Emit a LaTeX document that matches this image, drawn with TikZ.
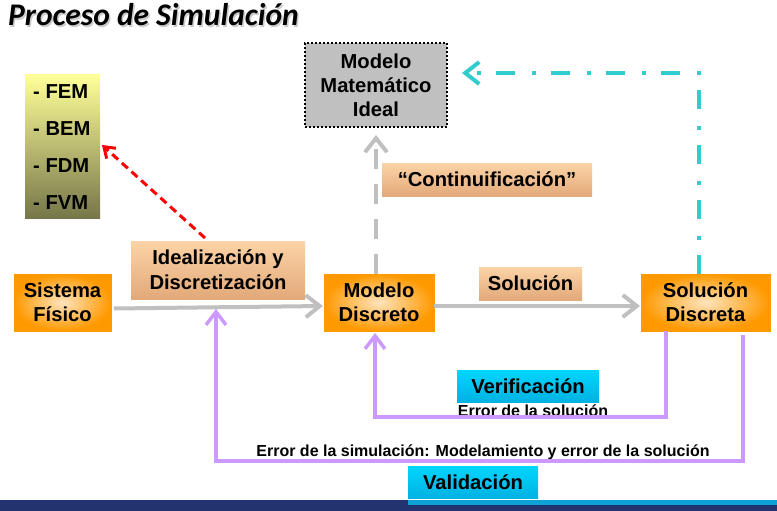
\documentclass[tikz,border=0pt]{standalone}
\usepackage{fontspec}
\setmainfont{Liberation Sans}
\newfontfamily\titlefont{Carlito}
\usetikzlibrary{arrows.meta}
\definecolor{orng}{HTML}{FF9900}
\definecolor{orngin}{HTML}{FFE4BE}
\definecolor{peachT}{HTML}{FCD3A6}
\definecolor{peachB}{HTML}{E2A97A}
\definecolor{yelT}{HTML}{FFFF99}
\definecolor{yelB}{HTML}{76764A}
\definecolor{cyT}{HTML}{00D6FF}
\definecolor{cyB}{HTML}{00B2E2}
\definecolor{grayarr}{HTML}{C0C0C0}
\definecolor{tealc}{HTML}{33CCCC}
\definecolor{purp}{HTML}{CC99FF}
\definecolor{navyc}{HTML}{223370}
\definecolor{ltblue}{HTML}{0CA2D6}
\tikzset{
  big/.style={font=\bfseries\fontsize{20.2}{24}\selectfont},
  small/.style={font=\bfseries\fontsize{16}{18}\selectfont},
  obox/.style={big, align=center, inner sep=0, draw=orng, line width=0.8, inner color=orngin, outer color=orng},
  pbox/.style={big, align=center, inner sep=0, top color=peachT, bottom color=peachB},
  cbox/.style={big, align=center, inner sep=0, top color=cyT, bottom color=cyB},
  grayline/.style={draw=grayarr, line width=4, -{Straight Barb[length=14,width=22]}},
  purpline/.style={draw=purp, line width=3.5, -{Straight Barb[length=13,width=20]}},
}
\begin{document}
\begin{tikzpicture}[x=1pt,y=-1pt]
\useasboundingbox (0,0) rectangle (777,511);
% title
\node[anchor=base west, inner sep=0, text=black!40, opacity=0.5, font=\titlefont\bfseries\itshape\fontsize{31.5}{33}\selectfont] (titsh) at (9.5,27.5) {Proceso de Simulación};
\node[anchor=base west, inner sep=0, font=\titlefont\bfseries\itshape\fontsize{31.5}{33}\selectfont] (title) at (8,26) {Proceso de Simulación};
% bottom bar
\fill[navyc] (0,500) rectangle (777,511);
\fill[ltblue] (408,500) rectangle (777,505);
% method list
\node[inner sep=0, minimum width=75, minimum height=143, top color=yelT, bottom color=yelB] (meth) at (62.5,146.5) {};
\node[big, anchor=west, inner sep=0] (fem) at (33,92) {- FEM};
\node[big, anchor=west, inner sep=0] (bem) at (33,129) {- BEM};
\node[big, anchor=west, inner sep=0] (fdm) at (33,166) {- FDM};
\node[big, anchor=west, inner sep=0] (fvm) at (33,203) {- FVM};
% ideal model
\node[big, align=center, inner sep=0, minimum width=142, minimum height=84, fill=grayarr, draw=black, line width=2, dash pattern=on 2 off 2] (mmi) at (376,85) {Modelo\\Matemático\\Ideal};
% main boxes
\node[obox, minimum width=97, minimum height=57] (sis) at (62.5,302.5) {Sistema\\Físico};
\node[obox, minimum width=110, minimum height=57] (md) at (379,302.5) {Modelo\\Discreto};
\node[obox, minimum width=129, minimum height=57] (sd) at (705.5,302.5) {Solución\\Discreta};
% label boxes
\node[pbox, minimum width=174, minimum height=58, font=\bfseries\fontsize{20.2}{25}\selectfont] (ide) at (218,270) {Idealización y\\Discretización};
\node[pbox, minimum width=210, minimum height=33] (cont) at (487,179.5) {“Continuificación”};
\node[pbox, minimum width=103, minimum height=33] (solu) at (530.5,283.5) {Solución};
\node[cbox, minimum width=142, minimum height=32] (ver) at (528,386) {Verificación};
\node[cbox, minimum width=130, minimum height=32] (val) at (473,482) {Validación};
\node[small, inner sep=0] (errs) at (533,411) {Error de la solución};
\node[small, inner sep=0] (errv) at (483,452) {Error de la simulación: Modelamiento y error de la solución};
% coordinates
\coordinate (a1) at (114,308.5);
\coordinate (a2) at (323,306);
\coordinate (b1) at (434,306);
\coordinate (b2) at (640,306);
\coordinate (c1) at (376,274);
\coordinate (c2) at (376,135);
\coordinate (d1) at (699,274);
\coordinate (d2) at (699,73);
\coordinate (d3) at (462,73);
\coordinate (r1) at (205,238);
\coordinate (r2) at (102,145);
\coordinate (v1) at (666,331);
\coordinate (v2) at (666,417);
\coordinate (v3) at (375,417);
\coordinate (v4) at (375,333);
\coordinate (w1) at (743,335);
\coordinate (w2) at (743,461);
\coordinate (w3) at (216,461);
\coordinate (w4) at (216,309);
% connectors
\draw[grayline] (a1) -- (a2);
\draw[grayline] (b1) -- (b2);
\draw[grayline, dash pattern=on 20 off 15] (c1) -- (c2);
\draw[draw=tealc, line width=4, dash pattern=on 19 off 15 on 4 off 17, -{Straight Barb[length=14,width=22]}] (d1) -- (d2) -- (d3);
\draw[red, line width=3, dash pattern=on 8 off 5, -{Straight Barb[length=10,width=14]}] (r1) -- (r2);
\draw[purpline] (v1) -- (v2) -- (v3) -- (v4);
\draw[purpline] (w1) -- (w2) -- (w3) -- (w4);
\end{tikzpicture}
\end{document}
